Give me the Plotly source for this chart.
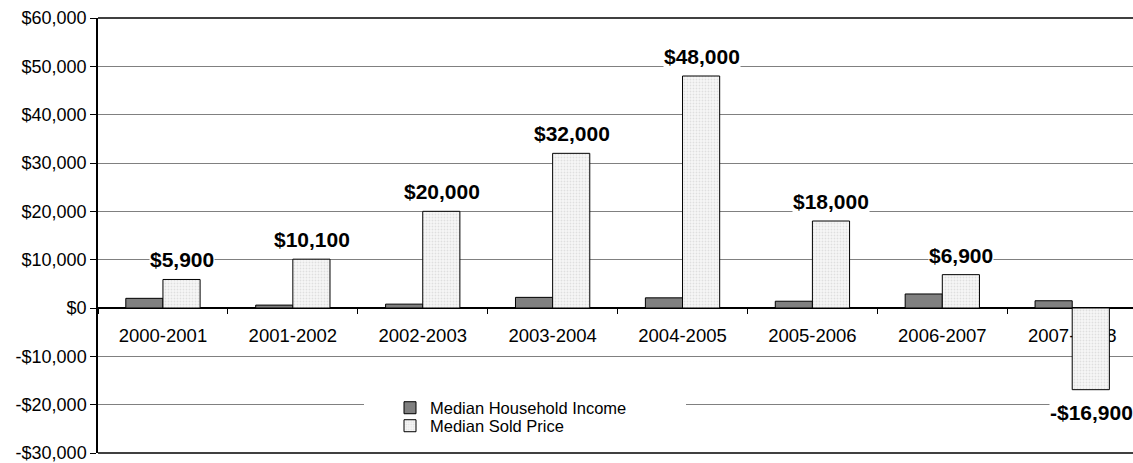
import plotly.graph_objects as go

categories = ["2000-2001", "2001-2002", "2002-2003", "2003-2004",
              "2004-2005", "2005-2006", "2006-2007", "2007-2008"]
income = [2000, 600, 800, 2200, 2100, 1400, 2900, 1500]
sold_price = [5900, 10100, 20000, 32000, 48000, 18000, 6900, -16900]
price_labels = ["$5,900", "$10,100", "$20,000", "$32,000",
                "$48,000", "$18,000", "$6,900", "-$16,900"]
tick_vals = [60000, 50000, 40000, 30000, 20000, 10000, 0, -10000, -20000, -30000]
tick_text = ["$60,000", "$50,000", "$40,000", "$30,000", "$20,000", "$10,000",
             "$0", "-$10,000", "-$20,000", "-$30,000"]

FONT = "Liberation Sans, Arial, sans-serif"

fig = go.Figure()
fig.add_trace(go.Bar(
    x=categories, y=income, name="Median Household Income", legend="legend",
    showlegend=True,
    marker=dict(color="#808080", line=dict(color="black", width=1)),
))
fig.add_trace(go.Bar(
    x=categories, y=sold_price, name="Median Sold Price", legend="legend2",
    showlegend=True,
    marker=dict(color="#f2f2f2", line=dict(color="black", width=1),
                pattern=dict(shape=".", fgcolor="#c8c8c8", bgcolor="#f7f7f7",
                             size=3, solidity=0.3)),
))

annotations = []
for c, v, t in zip(categories, sold_price, price_labels):
    annotations.append(dict(
        x=c, y=v, text="<b>%s</b>" % t, showarrow=False,
        xshift=19, yshift=7 if v >= 0 else -10,
        yanchor="bottom" if v >= 0 else "top",
        bgcolor="white", borderpad=0,
        font=dict(family=FONT, size=21, color="black"),
    ))

shapes = [
    # white box behind legend (hides gridline)
    dict(type="rect", xref="paper", yref="paper", x0=(364 - 98) / 1035, x1=(686 - 98) / 1035,
         y0=(453 - 434) / 435, y1=(453 - 397) / 435, fillcolor="white",
         line=dict(width=0), layer="above"),
    # top and bottom border lines
    dict(type="line", xref="paper", yref="paper", x0=0, x1=1, y0=1, y1=1,
         line=dict(color="black", width=1.5)),
    dict(type="line", xref="paper", yref="paper", x0=0, x1=1, y0=0, y1=0,
         line=dict(color="black", width=1.5)),
]

leg_common = dict(xanchor="left", yanchor="middle", bgcolor="rgba(0,0,0,0)",
                  font=dict(family=FONT, size=16.5), itemwidth=30,
                  borderwidth=0, visible=True)

fig.update_layout(
    width=1133, height=463,
    margin=dict(l=98, r=0, t=18, b=10),
    paper_bgcolor="white", plot_bgcolor="white",
    barmode="group", bargap=0.428, bargroupgap=0,
    showlegend=True,
    font=dict(family=FONT, size=18, color="black"),
    annotations=annotations, shapes=shapes,
    legend=dict(x=(390 - 98) / 1035, y=(453 - 408) / 435, **leg_common),
    legend2=dict(x=(390 - 98) / 1035, y=(453 - 426) / 435, **leg_common),
    xaxis=dict(
        type="category", range=[-0.5, 7.468],
        anchor="free", position=30 / 90,
        showline=True, linecolor="black", linewidth=1.5,
        ticks="outside", tickson="boundaries", ticklen=5, tickcolor="black",
        ticklabelstandoff=11,
        showgrid=False, layer="below traces",
        tickfont=dict(family=FONT, size=18.5),
    ),
    yaxis=dict(
        range=[-30000, 60000], tickvals=tick_vals, ticktext=tick_text,
        showgrid=True, gridcolor="#808080", gridwidth=1,
        zeroline=False,
        showline=True, linecolor="black", linewidth=1.5,
        ticks="outside", ticklen=6, tickcolor="black",
        ticklabeloverflow="allow",
        tickfont=dict(family=FONT, size=18),
    ),
)

fig.write_html(
    "out.html",
    config={"displayModeBar": False},
    post_script="document.body.style.margin='0';document.body.style.padding='0';"
                "document.body.style.overflow='hidden';"
                "document.documentElement.style.overflow='hidden';",
)
